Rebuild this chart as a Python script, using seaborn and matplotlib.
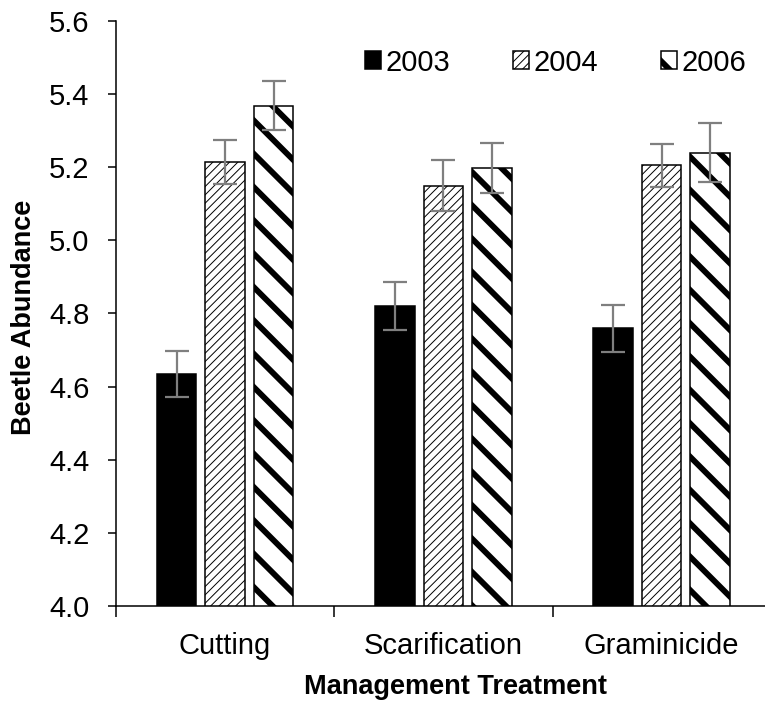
import matplotlib
matplotlib.use("Agg")
import matplotlib.pyplot as plt
import seaborn as sns
import pandas as pd

# Mean beetle abundance (log scale) by management treatment and survey year
treatments = ["Cutting", "Scarification", "Graminicide"]
years = ["2003", "2004", "2006"]
mean_2003 = [4.635, 4.820, 4.760]
mean_2004 = [5.215, 5.150, 5.205]
mean_2006 = [5.368, 5.198, 5.240]
se_2003 = [0.063, 0.066, 0.064]
se_2004 = [0.060, 0.070, 0.058]
se_2006 = [0.067, 0.068, 0.081]
y_ticks = [4.0, 4.2, 4.4, 4.6, 4.8, 5.0, 5.2, 5.4, 5.6]

means = {"2003": mean_2003, "2004": mean_2004, "2006": mean_2006}
errors = {"2003": se_2003, "2004": se_2004, "2006": se_2006}

df = pd.DataFrame(
    [(t, y, means[y][i]) for y in years for i, t in enumerate(treatments)],
    columns=["Treatment", "Year", "Abundance"],
)

sns.set_style("ticks")
plt.rcParams["font.family"] = ["Liberation Sans", "DejaVu Sans"]
for key in ("text.color", "axes.labelcolor", "xtick.color", "ytick.color",
            "axes.edgecolor"):
    plt.rcParams[key] = "black"

fig = plt.figure(figsize=(7.65, 7.02), dpi=100)
ax = fig.add_axes([0.1516, 0.1368, 0.856, 0.8333])

sns.barplot(
    data=df, x="Treatment", y="Abundance", hue="Year",
    order=treatments, hue_order=years,
    width=0.666, gap=0.185, errorbar=None,
    palette=["black", "white", "white"],
    edgecolor="black", linewidth=1.1, ax=ax,
)

styles = {"2003": ("", 1.0), "2004": ("////", 0.7), "2006": ("\\", 4.2)}


def apply_hatch(patch, year):
    hatch, hlw = styles[year]
    if hatch:
        patch.set_hatch(hatch)
        if hasattr(patch, "set_hatch_linewidth"):
            patch.set_hatch_linewidth(hlw)


for year, container in zip(years, ax.containers):
    xs = []
    for bar in container:
        apply_hatch(bar, year)
        xs.append(bar.get_x() + bar.get_width() / 2)
    ax.errorbar(xs, means[year], yerr=errors[year], fmt="none",
                ecolor="#7f7f7f", elinewidth=1.6, capsize=8.4, capthick=1.6,
                zorder=5)

ax.set_ylim(4.0, 5.6)
ax.set_yticks(y_ticks)
ax.set_yticklabels([f"{v:.1f}" for v in y_ticks])
ax.set_xlim(-0.5, 2.5)
ax.set_xticks(range(len(treatments)))
ax.set_xticklabels(treatments)
ax.set_xticks([-0.5, 0.5, 1.5, 2.5], minor=True)
ax.tick_params(axis="x", which="major", length=0, pad=19, labelsize=21)
ax.tick_params(axis="x", which="minor", length=8, width=1.1, direction="out")
ax.tick_params(axis="y", length=6, width=1.1, direction="out", pad=13,
               labelsize=21)

for side in ("top", "right"):
    ax.spines[side].set_visible(False)
for side in ("left", "bottom"):
    ax.spines[side].set_linewidth(1.1)
    ax.spines[side].set_color("black")

ax.set_xlabel("Management Treatment", fontsize=19.5, fontweight="bold")
ax.set_ylabel("Beetle Abundance", fontsize=19.5, fontweight="bold")
ax.xaxis.set_label_coords(0.519, -0.138)
ax.xaxis.label.set_va("center")
ax.yaxis.set_label_coords(-0.140, 0.494)
ax.yaxis.label.set_va("center")

leg = ax.legend(
    title=None, ncol=3, frameon=False, fontsize=21,
    loc="center", bbox_to_anchor=(0.671, 0.929),
    handlelength=0.55, handleheight=0.55, handletextpad=0.15,
    columnspacing=2.15,
)
for year, handle in zip(years, leg.legend_handles):
    handle.set_edgecolor("black")
    handle.set_linewidth(1.1)
    apply_hatch(handle, year)

fig.savefig("out.png", dpi=100)
